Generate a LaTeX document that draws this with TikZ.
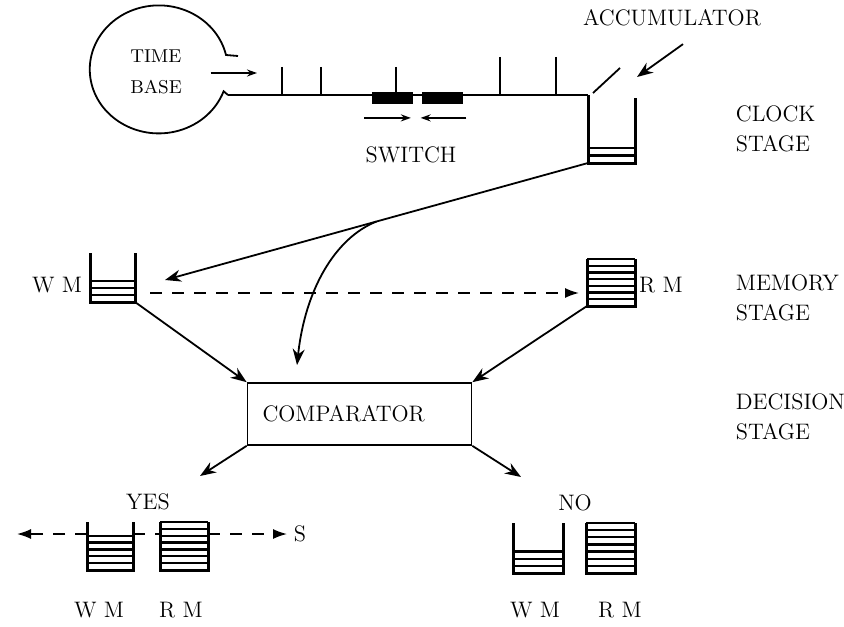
\documentclass[tikz,border=0pt]{standalone}
\usepackage{tikz}
\usetikzlibrary{arrows.meta, positioning, calc}
\tikzset{
	lbl/.style={font=\fontsize{11.2}{15}\selectfont, inner sep=0pt, align=center},
	stagelbl/.style={lbl, anchor=west, align=left},
	tank/.style={minimum width=24pt, minimum height=24pt, inner sep=0pt, outer sep=0pt},
	wall/.style={line width=1.5pt},
	stripe/.style={line width=1.2pt},
	swblock/.style={fill=black, minimum width=20.5pt, minimum height=6pt, inner sep=0pt},
	flowarrow/.style={-{Stealth[length=8pt, width=6pt]}, line width=0.9pt},
	smallarrow/.style={-{Stealth[length=5pt, width=3.5pt]}, line width=0.8pt},
	dashline/.style={dash pattern=on 6pt off 5pt, line width=0.8pt},
	dasharrow/.style={dashline, -{Latex[length=7pt, width=5pt]}},
	% comparator box
	cmpbox/.style={draw, line width=0.8pt, text width=97pt, align=left, inner xsep=7.5pt, minimum height=31pt, font=\fontsize{11.2}{15}\selectfont},
}
\begin{document}
\begin{tikzpicture}[x=0.5pt, y=-0.5pt, line width=0.9pt]
	\useasboundingbox (0,0) rectangle (844,626);

	% clock stage
	\node[lbl, align=left, font=\fontsize{9.3}{15.5}\selectfont] (tb) at (156,72) {TIME\\BASE};
	\coordinate (tb-out) at (228,95);
	\coordinate (tick-in) at (257,73);
	\draw (238,56) -- (226,55) arc[start angle=-13, end angle=-340, x radius=69, y radius=64] -- (tb-out);
	\draw[smallarrow] ($(tb.east)+(28,1)$) -- (tick-in);
	\foreach \x/\h in {282/67, 321/67, 396/67, 500/57, 556/57}
		\draw (\x,\h) -- (\x,95);
	\node[swblock] (sw1) at (392.5,98) {};
	\node[swblock] (sw2) at (442,98) {};
	\draw[smallarrow] ([shift={(-7,13)}]sw1.south west) -- ([shift={(-3,13)}]sw1.south east);
	\draw[smallarrow] ([shift={(3,13)}]sw2.south east) -- ([shift={(0,13)}]sw2.south west);
	\node[lbl] (swlbl) at (411,155) {SWITCH};

	\node[tank, minimum width=23.5pt, minimum height=34pt] (acc) at (611.5,129) {};
	\draw (tb-out) -- (acc.north west);
	\draw[wall] (acc.north west) -- (acc.south west) -- (acc.south east) -- ([yshift=-1.5pt]acc.north east);
	\draw ($(acc.north west)+(5,-2)$) -- ++(27,-25);
	\node[lbl] (acclbl) at (672,18) {ACCUMULATOR};
	\draw[flowarrow] ($(acclbl.south)+(11,17)$) -- ($(acc.north east)+(2,-18)$);

	% memory stage
	\node[tank, minimum width=22.5pt, minimum height=24.5pt] (wm1) at (112.5,277.5) {};
	\node[tank, minimum height=23.5pt] (rm1) at (611,282.5) {};
	\node[lbl] (wm1lbl) at (57,285) {W M};
	\node[lbl] (rm1lbl) at (661,285) {R M};

	% decision stage
	\node[cmpbox] (cmp) at (359.5,414) {COMPARATOR};
	\node[lbl] (yes) at (148,502) {YES};
	\node[lbl] (no) at (575,503) {NO};
	\node[tank, minimum width=23pt] (wmy) at (110,546) {};
	\node[tank] (rmy) at (184,546) {};
	\node[tank, minimum width=25pt, minimum height=25pt] (wmn) at (538,548) {};
	\node[tank, minimum width=24.5pt, minimum height=25pt] (rmn) at (610.5,548) {};
	\node[lbl] (wmylbl) at (99,610) {W M};
	\node[lbl] (rmylbl) at (181,610) {R M};
	\node[lbl] (wmnlbl) at (535,610) {W M};
	\node[lbl] (rmnlbl) at (620,610) {R M};
	\node[lbl] (s) at (300,534) {S};

	\foreach \t in {wm1, rm1, wmy, rmy, wmn, rmn}
		\draw[wall] (\t.north west) -- (\t.south west) -- (\t.south east) -- (\t.north east);
	\foreach \t/\n/\a/\b in {acc/9/7/8, wm1/7/4/6, rm1/7/0/6, wmy/7/2/6, rmy/7/0/6, wmn/7/4/6, rmn/7/0/6}
		\foreach \k in {\a,...,\b}
			\draw[stripe] ($(\t.north west)!\k/\n!(\t.south west)$) -- ($(\t.north east)!\k/\n!(\t.south east)$);

	\node[stagelbl] (clock) at (735,129) {CLOCK\\STAGE};
	\node[stagelbl] (memory) at (735,297.5) {MEMORY\\STAGE};
	\node[stagelbl] (decision) at (735,417) {DECISION\\STAGE};

	% connectors
	\coordinate (wm-in) at (165,280);
	\coordinate (split) at ($(acc.south west)!0.5!(wm-in)$);
	\coordinate (cmp-in) at (297,365);
	\coordinate (mem-l) at (150,293);
	\coordinate (mem-r) at (579,293);
	\coordinate (yes-in) at (200,476);
	\coordinate (no-in) at (521,477);
	\coordinate (out-l) at (17,534);
	\coordinate (wmy-l) at ($(wmy.north west)!.25!(wmy.south west)$);
	\coordinate (wmy-r) at ($(wmy.north east)!.25!(wmy.south east)$);
	\coordinate (rmy-l) at ($(rmy.north west)!.25!(rmy.south west)$);
	\coordinate (rmy-r) at ($(rmy.north east)!.25!(rmy.south east)$);

	\draw[flowarrow] (acc.south west) -- (wm-in);
	\draw[flowarrow] (split) .. controls (335,238) and (305,290) .. (cmp-in);
	\draw[dasharrow] (mem-l) -- (mem-r);
	\draw[flowarrow] (wm1.south east) -- (cmp.north west);
	\draw[flowarrow] (rm1.south west) -- (cmp.north east);
	\draw[flowarrow] (cmp.south west) -- (yes-in);
	\draw[flowarrow] (cmp.south east) -- (no-in);
	\draw[dasharrow] (wmy-l) -- (out-l);
	\draw[dashline] (wmy-r) -- (rmy-l);
	\draw[dasharrow] (rmy-r) -- ([xshift=-3pt]s.west);
\end{tikzpicture}
\end{document}
